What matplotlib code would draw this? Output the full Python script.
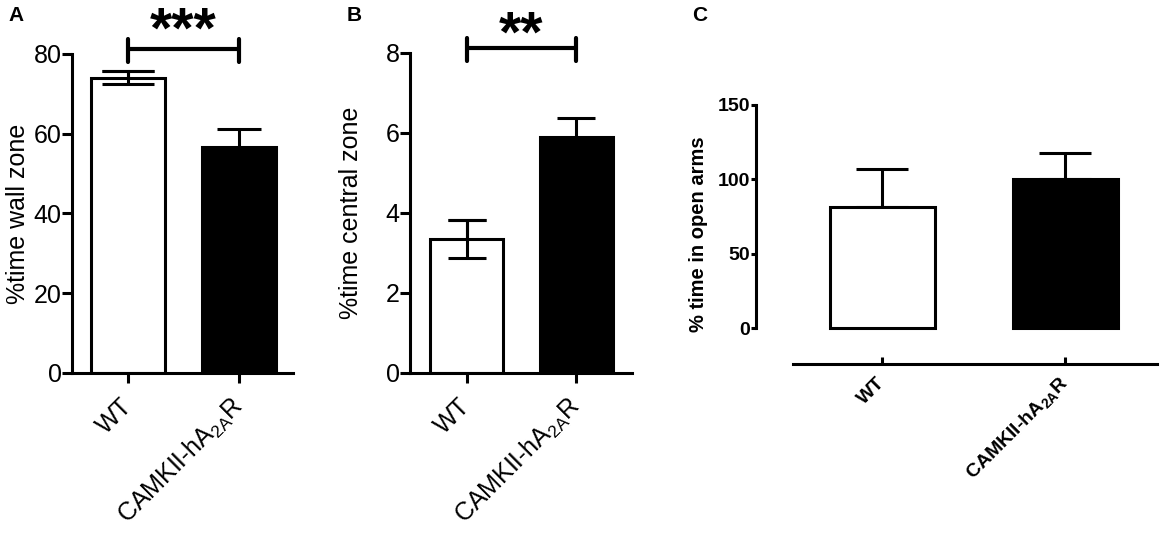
import numpy as np
import matplotlib
matplotlib.use("Agg")
import matplotlib.pyplot as plt

plt.rcParams['font.family'] = ['Liberation Sans', 'DejaVu Sans']
plt.rcParams['mathtext.fontset'] = 'custom'
plt.rcParams['mathtext.rm'] = 'Liberation Sans'
plt.rcParams['mathtext.bf'] = 'Liberation Sans:bold'

# 数据
groups = ['WT', r'CAMKII-hA$_{\mathregular{2A}}$R']
groups_bold = ['WT', r'CAMKII-hA$_{\mathbf{2A}}$R']
wall_mean = [74.0, 56.6]
wall_sem = [1.6, 4.5]
central_mean = [3.35, 5.9]
central_sem = [0.48, 0.47]
arms_mean = [81.6, 100.0]
arms_sem = [25.5, 18.0]

fills = ['white', 'black']
lw = 2.2

fig = plt.figure(figsize=(11.62, 5.39), dpi=100)
axA = fig.add_axes([0.062, 0.308, 0.1902, 0.592])
axB = fig.add_axes([0.3528, 0.308, 0.1911, 0.5937])
axC = fig.add_axes([0.6506, 0.3247, 0.3451, 0.4805])


def prism_panel(ax, means, sems, ylim, yticks, ylabel, xlim, caps, labx):
    x = np.arange(len(means))
    for i in range(len(means)):
        ax.errorbar(x[i], means[i], yerr=sems[i], fmt='none', ecolor='black',
                    elinewidth=lw, capsize=caps[i], capthick=lw, zorder=1)
    ax.bar(x, means, width=0.67, color=fills, edgecolor='black', linewidth=lw, zorder=2)
    # 白色柱子上重画误差线
    ax.errorbar(x[0], means[0], yerr=sems[0], fmt='none', ecolor='black',
                elinewidth=lw, capsize=caps[0], capthick=lw, zorder=3)
    ax.set_xlim(*xlim)
    ax.set_ylim(*ylim)
    ax.set_yticks(yticks)
    ax.set_xticks(x)
    ax.set_xticklabels(groups, rotation=45, ha='right', va='center', rotation_mode='anchor')
    ax.tick_params(axis='both', labelsize=18, width=lw, length=7, direction='out', pad=0.5)
    ax.tick_params(axis='x', pad=14)
    ax.spines['top'].set_visible(False)
    ax.spines['right'].set_visible(False)
    ax.spines['left'].set_linewidth(lw)
    ax.spines['bottom'].set_linewidth(lw)
    ax.set_ylabel(ylabel, fontsize=18)
    ax.yaxis.set_label_coords(labx, 0.5)


prism_panel(axA, wall_mean, wall_sem, (0, 80), [0, 20, 40, 60, 80],
            '%time wall zone', (-0.505, 1.486), [19, 15.5], -0.19)
prism_panel(axB, central_mean, central_sem, (0, 8), [0, 2, 4, 6, 8],
            '%time central zone', (-0.52, 1.51), [14, 13.5], -0.212)

# 显著性标记
def sig(ax, y, ytick_lo, ytick_hi, text, ytext):
    ax.plot([0, 1], [y, y], color='black', lw=3, clip_on=False, solid_capstyle='butt')
    for xx in [0, 1]:
        ax.plot([xx, xx], [ytick_lo, ytick_hi], color='black', lw=3, clip_on=False,
                solid_capstyle='round')
    ax.text(0.5, ytext, text, ha='center', va='center', fontsize=41,
            fontweight='bold', clip_on=False)


sig(axA, 81.3, 78.0, 83.8, '***', 85.3)
sig(axB, 8.12, 7.81, 8.37, '**', 8.4)

# C 面板
x = np.arange(2)
for i in range(2):
    axC.errorbar(x[i], arms_mean[i], yerr=[[0], [arms_sem[i]]], fmt='none', ecolor='black',
                 elinewidth=lw, capsize=19, capthick=lw, zorder=1)
axC.bar(x, arms_mean, width=0.57, color=fills, edgecolor='black', linewidth=lw, zorder=2)
axC.set_xlim(-0.69, 1.5)
axC.set_ylim(-24.2, 150)
axC.set_yticks([0, 50, 100, 150])
axC.set_xticks(x)
axC.set_xticklabels(groups_bold, rotation=45, ha='right', va='center', rotation_mode='anchor',
                    fontweight='bold')
axC.spines['top'].set_visible(False)
axC.spines['right'].set_visible(False)
axC.spines['left'].set_linewidth(lw)
axC.spines['bottom'].set_linewidth(lw)
axC.spines['left'].set_bounds(0, 150)
axC.spines['bottom'].set_bounds(-0.49, 1.5)
axC.tick_params(axis='y', labelsize=14, width=lw, length=3.5, direction='out', pad=0.5)
axC.tick_params(axis='x', labelsize=14, width=lw, length=5, direction='in', pad=12)
for lab in axC.get_yticklabels():
    lab.set_fontweight('bold')
axC.set_ylabel('% time in open arms', fontsize=14.5, fontweight='bold')
axC.yaxis.set_label_coords(-0.12, 0.5)

# 面板字母
fig.text(0.007, 0.972, 'A', fontsize=15, fontweight='bold', va='center')
fig.text(0.2986, 0.972, 'B', fontsize=15, fontweight='bold', va='center')
fig.text(0.5955, 0.972, 'C', fontsize=15, fontweight='bold', va='center')

fig.savefig('out.png', dpi=100)
